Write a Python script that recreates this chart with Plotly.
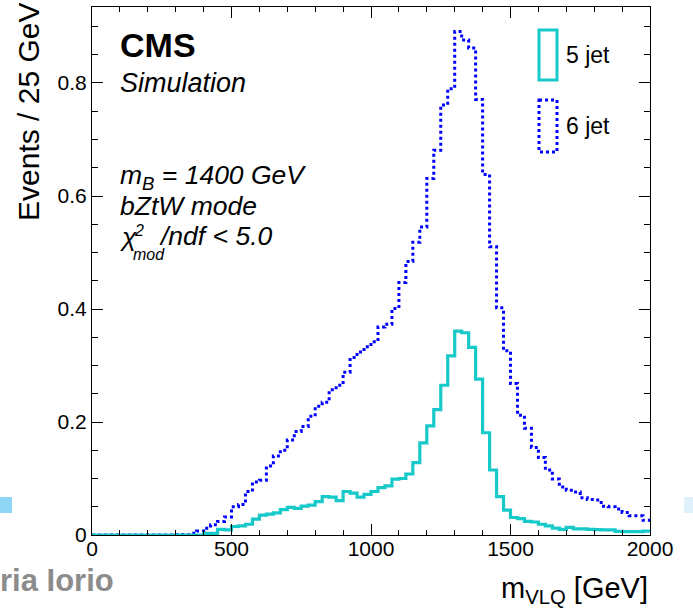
import numpy as np
import plotly.graph_objects as go

# ---------------- data ----------------
bin_width = 25
x_min, x_max = 0, 2000

jet5 = [0.0] * 16 + [
    0.003, 0.003, 0.010, 0.009, 0.015, 0.016, 0.019, 0.028, 0.035, 0.037,   # 400-650
    0.039, 0.045, 0.049, 0.047, 0.051, 0.053, 0.059, 0.068, 0.067, 0.061,   # 650-900
    0.077, 0.074, 0.067, 0.072, 0.077, 0.084, 0.087, 0.099, 0.100, 0.108,   # 900-1150
    0.128, 0.163, 0.193, 0.222, 0.265, 0.317, 0.361, 0.358, 0.332, 0.276,   # 1150-1400
    0.181, 0.115, 0.068, 0.044, 0.031, 0.029, 0.024, 0.023, 0.019, 0.016,   # 1400-1650
    0.012, 0.010, 0.0136, 0.011, 0.011, 0.010, 0.0095, 0.009, 0.009, 0.0065,  # 1650-1900
    0.006, 0.006, 0.006, 0.007,                                            # 1900-2000
]

jet6 = [0.0] * 12 + [
    0.0005, 0.001, 0.003, 0.007, 0.012, 0.018, 0.024, 0.032,               # 300-500
    0.050, 0.054, 0.077, 0.094, 0.097, 0.122, 0.140, 0.150, 0.168, 0.183,   # 500-750
    0.192, 0.210, 0.228, 0.235, 0.257, 0.265, 0.288, 0.314, 0.324, 0.333,   # 750-1000
    0.342, 0.368, 0.373, 0.401, 0.447, 0.484, 0.518, 0.545, 0.631, 0.681,   # 1000-1250
    0.761, 0.790, 0.891, 0.876, 0.862, 0.771, 0.638, 0.510, 0.402, 0.326,   # 1250-1500
    0.268, 0.212, 0.189, 0.155, 0.137, 0.115, 0.099, 0.085, 0.079, 0.076,   # 1500-1750
    0.066, 0.063, 0.062, 0.051, 0.050, 0.046, 0.040, 0.034, 0.034, 0.026,   # 1750-2000
]

x_ticks = [0, 500, 1000, 1500, 2000]
y_ticks = [0, 0.2, 0.4, 0.6, 0.8]
y_max = 0.9345

legend_labels = ["5 jet", "6 jet"]

# ---------------- layout helpers ----------------
W, H = 693, 613
L, R, T, B = 92, 650, 7, 535


def X(px):
    return (px - L) / (R - L)


def Y(py):
    return (B - py) / (B - T)


edges = np.arange(x_min, x_max + bin_width, bin_width)

CYAN = "#17c9c9"
BLUE = "#0000ff"
FONT = "Liberation Sans, Arial, Helvetica, sans-serif"


def step_xy(vals):
    xs = list(edges)
    ys = list(vals) + [vals[-1]]
    return xs, ys


fig = go.Figure()
xs, ys = step_xy(jet6)
fig.add_trace(go.Scatter(x=xs, y=ys, mode="lines", line=dict(color=BLUE, width=3, dash="3px,3px", shape="hv"),
                         name=legend_labels[1], showlegend=False))
xs, ys = step_xy(jet5)
fig.add_trace(go.Scatter(x=xs, y=ys, mode="lines", line=dict(color=CYAN, width=3.2, shape="hv"),
                         name=legend_labels[0], showlegend=False))

axis_common = dict(
    showline=True, linecolor="black", linewidth=1, mirror="ticks",
    ticks="inside", ticklen=11, tickwidth=1, tickcolor="black",
    showgrid=False, zeroline=False,
    tickfont=dict(family=FONT, size=21, color="black"),
)

fig.update_xaxes(range=[x_min, x_max], tickvals=x_ticks, ticktext=[str(v) for v in x_ticks],
                 ticklabelstandoff=-5,
                 minor=dict(dtick=100, tick0=0, ticklen=5, ticks="inside", tickcolor="black", tickwidth=1, showgrid=False),
                 **axis_common)
fig.update_yaxes(range=[0, y_max], tickvals=y_ticks, ticktext=["0", "0.2", "0.4", "0.6", "0.8"],
                 minor=dict(dtick=0.05, tick0=0, ticklen=6, ticks="inside", tickcolor="black", tickwidth=1, showgrid=False),
                 **axis_common)

TXT = 26.5
SMALL = 16


def txt(text, px, py, size, xanchor="left", color="black", **kw):
    return dict(text=text, xref="paper", yref="paper", x=X(px), y=Y(py),
                xanchor=xanchor, yanchor="middle", showarrow=False,
                font=dict(family=FONT, size=size, color=color), **kw)


ann = []
# axis titles
ann.append(dict(text="Events / 25 GeV", textangle=-90, xref="paper", yref="paper",
                x=X(29), y=Y(1), xanchor="center", yanchor="top", showarrow=False,
                font=dict(family=FONT, size=30, color="black")))
ann.append(txt("m<sub>VLQ</sub> [GeV]", 650, 590, 29, xanchor="right"))
# CMS labels
ann.append(txt("<b>CMS</b>", 118, 45, 34))
ann.append(txt("<i>Simulation</i>", 118, 83, 27))
ann.append(txt("<i>m<sub>B</sub> = 1400 GeV</i>", 118, 177, TXT))
ann.append(txt("<i>bZtW mode</i>", 118, 206, TXT))
# chi2 line built from pieces (stacked super/subscript)
ann.append(txt("<i>χ</i>", 118, 237, TXT))
ann.append(txt("<i>2</i>", 132, 230, SMALL))
ann.append(txt("<i>mod</i>", 131, 254, SMALL))
ann.append(txt("<i>/ndf < 5.0</i>", 157, 236, TXT))
# legend labels
ann.append(txt(legend_labels[0], 564, 55, 23))
ann.append(txt(legend_labels[1], 564, 126, 23))
# slide remnant text
ann.append(txt("<b>ria Iorio</b>", 116, 580, 31, xanchor="right", color="#8c8c8c"))

shapes = [
    dict(type="rect", xref="paper", yref="paper", x0=X(539), x1=X(557), y0=Y(30), y1=Y(80),
         line=dict(color=CYAN, width=3), fillcolor="rgba(0,0,0,0)"),
    dict(type="rect", xref="paper", yref="paper", x0=X(539), x1=X(557), y0=Y(100), y1=Y(152),
         line=dict(color=BLUE, width=3, dash="3px,3px"), fillcolor="rgba(0,0,0,0)"),
    dict(type="rect", xref="paper", yref="paper", x0=X(0), x1=X(12), y0=Y(497), y1=Y(513),
         line=dict(width=0), fillcolor="#8fd6f5", layer="below"),
    dict(type="rect", xref="paper", yref="paper", x0=X(684), x1=X(693), y0=Y(497), y1=Y(513),
         line=dict(width=0), fillcolor="#dff2fb", layer="below"),
]

fig.update_layout(
    width=W, height=H,
    margin=dict(l=L, r=W - R, t=T, b=H - B),
    paper_bgcolor="white", plot_bgcolor="white",
    annotations=ann, shapes=shapes, showlegend=False,
)

fig.write_html("out.html")
